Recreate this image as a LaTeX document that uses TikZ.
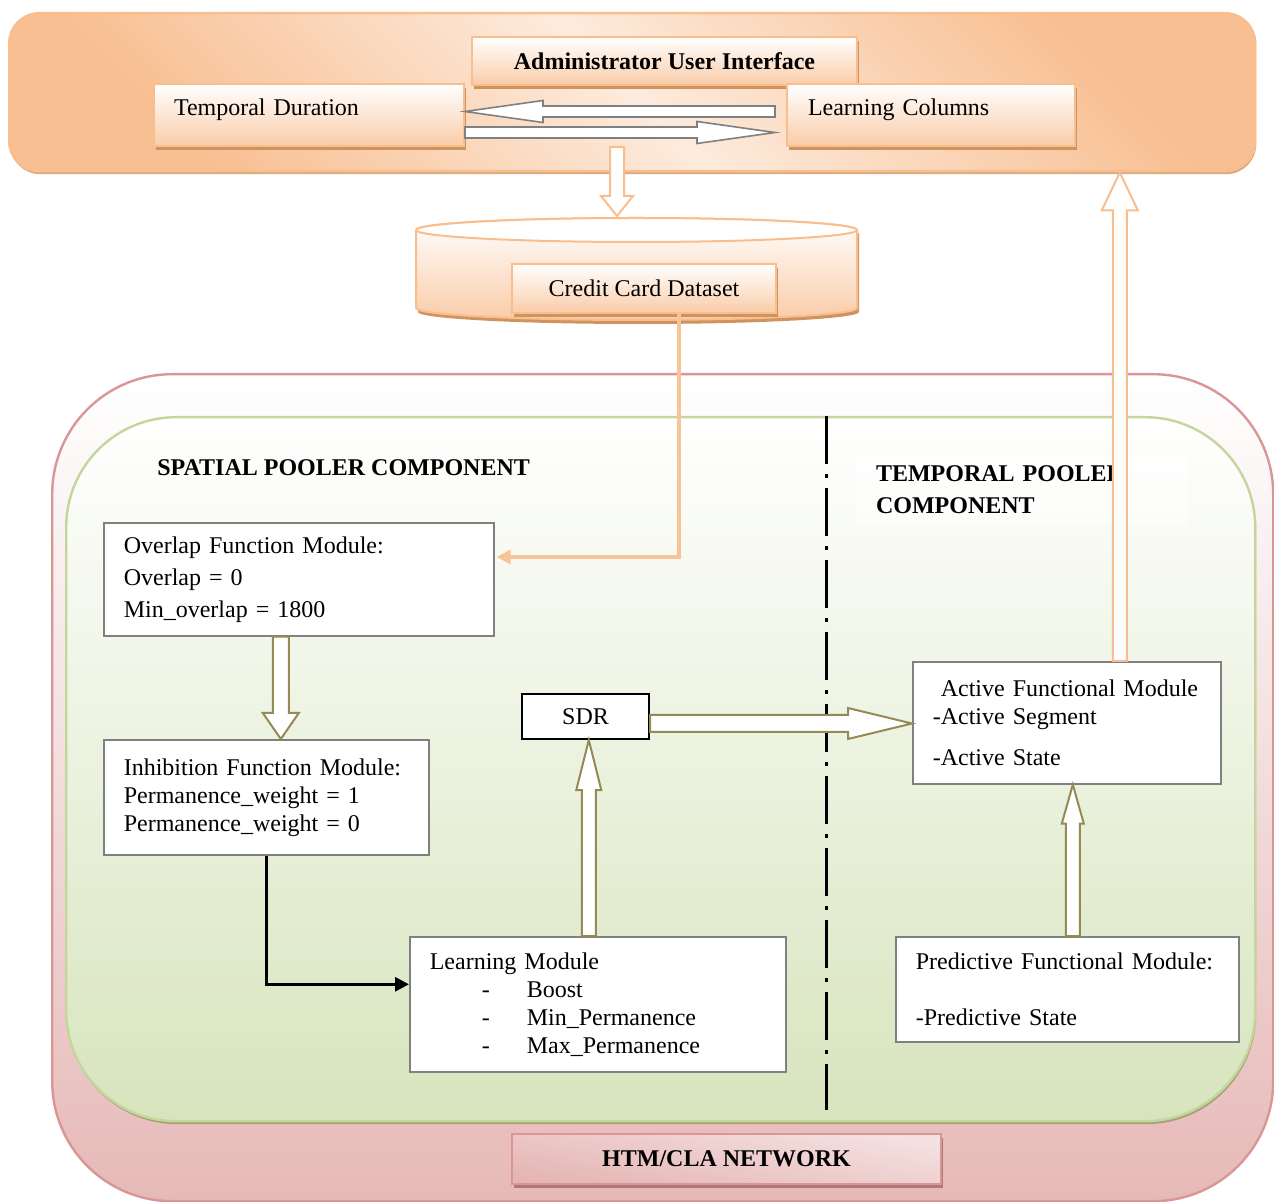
\documentclass[tikz,border=0pt]{standalone}
\usepackage{fontspec}
\setmainfont{Liberation Serif}
\usetikzlibrary{calc,shadows,positioning,arrows.meta}

\definecolor{orngB}{HTML}{F9BE8E}
\definecolor{orngD}{HTML}{F8BF92}
\definecolor{orngL}{HTML}{FDEBDD}
\definecolor{orngS}{HTML}{CF935F}
\definecolor{pinkB}{HTML}{D99694}
\definecolor{pinkF}{HTML}{E6B9B8}
\definecolor{pinkL}{HTML}{F4E2E1}
\definecolor{grnB}{HTML}{C3D69B}
\definecolor{grnF}{HTML}{D7E4BD}
\definecolor{olive}{HTML}{948A54}
\definecolor{lineO}{HTML}{F8C396}

% block arrow: style, from, to, half shaft, half head, head length
\newcommand{\blockarrow}[6]{%
  \draw[#1] let \p1=(#2), \p2=(#3), \n1={atan2(\y2-\y1,\x2-\x1)} in
    ($(\p1)+({\n1+90}:#4)$) -- ($(\p2)+({\n1+180}:#6)+({\n1+90}:#4)$)
    -- ($(\p2)+({\n1+180}:#6)+({\n1+90}:#5)$) -- (\p2)
    -- ($(\p2)+({\n1+180}:#6)+({\n1-90}:#5)$)
    -- ($(\p2)+({\n1+180}:#6)+({\n1-90}:#4)$) -- ($(\p1)+({\n1-90}:#4)$) -- cycle;}

\tikzset{
  txt/.style={font=\fontsize{12pt}{14pt}\selectfont},
  hdr/.style={font=\fontsize{12pt}{14pt}\selectfont\bfseries},
  uipanel/.style={rounded corners=15pt, draw=orngB, line width=1.2pt,
    top color=orngD, bottom color=orngD, middle color=orngL, shading angle=-45,
    drop shadow={shadow xshift=0.5pt, shadow yshift=-1.5pt, fill=orngS!80, opacity=1}},
  obox/.style={draw=orngB, line width=1pt, top color=white, bottom color=orngD!80,
    drop shadow={shadow xshift=1pt, shadow yshift=-2pt, fill=orngS, opacity=1}},
  netpanel/.style={rounded corners=60pt, draw=pinkB, line width=1.2pt,
    top color=white, bottom color=pinkF},
  grnpanel/.style={rounded corners=55pt, draw=grnB, line width=1.2pt,
    top color=white, bottom color=grnF,
    drop shadow={shadow xshift=0.5pt, shadow yshift=-1.5pt, fill=olive!80, opacity=1}},
  gbox/.style={draw=black!50, line width=0.8pt, fill=white, txt, align=left, inner xsep=10pt},
  netbox/.style={draw=pinkB, line width=1pt, top color=pinkL, bottom color=pinkF!90!pinkB,
    shading angle=-10, drop shadow={shadow xshift=1pt, shadow yshift=-2pt, fill=pinkB!80!black, opacity=1}},
  grayarr/.style={draw=black!50, fill=white, line width=0.8pt},
  olivearr/.style={draw=olive, fill=white, line width=1pt},
  orngarr/.style={draw=orngB, fill=white, line width=1pt},
  feed/.style={draw=lineO, line width=2pt, -{Triangle[length=7pt,width=7pt]}},
  link/.style={draw=black, line width=1.5pt, -{Triangle[length=7pt,width=7pt]}},
  divider/.style={draw=black, line width=1.5pt, dash pattern=on 24pt off 5pt on 2pt off 5pt}
}

\begin{document}
\begin{tikzpicture}[x=0.5pt,y=-0.5pt]
\useasboundingbox (0,0) rectangle (1274,1202);

% network and pooler panels
\node[netpanel, minimum width=610.5pt, minimum height=413.5pt, anchor=north west] (net) at (51,373) {};
\node[grnpanel, minimum width=594.5pt, minimum height=352pt, anchor=north west] (pool) at (65,416) {};
\node[netbox, hdr, minimum width=214.5pt, minimum height=25pt, anchor=north west] (htm) at (511,1133) {HTM/CLA NETWORK};

\node[hdr, anchor=west, inner sep=0pt] (sphead) at (157,468) {SPATIAL POOLER COMPONENT};
\node[hdr, fill=white, fill opacity=0.6, text opacity=1, align=left, text width=146pt, inner xsep=10pt,
  minimum height=35pt] (tphead) at (1022,490) {TEMPORAL POOLER\\[2pt] COMPONENT};

\draw[divider] (826,416) -- (826,1110); % divider

% user interface panel
\node[uipanel, minimum width=623pt, minimum height=79pt, anchor=north west] (ui) at (8,12) {};
\node[obox, hdr, minimum width=192.5pt, minimum height=24pt, anchor=north west] (admin) at (471,36) {Administrator User Interface};
\node[obox, txt, minimum width=155pt, minimum height=31pt, anchor=north west, text width=135pt, inner xsep=10pt,
  align=left, text height=8pt, text depth=7pt] (dur) at (153,83) {Temporal Duration};
\node[obox, txt, minimum width=143.5pt, minimum height=31pt, anchor=north west, text width=123pt, inner xsep=10.5pt,
  align=left, text height=8pt, text depth=7pt] (cols) at (786,83) {Learning Columns};

\coordinate (colsin) at (775,111.5);
\coordinate (colsout) at (775,132.5);
\blockarrow{grayarr}{colsin}{colsin -| dur.east}{2.75pt}{5.5pt}{39pt}
\blockarrow{grayarr}{colsout -| dur.east}{colsout}{2.75pt}{5.5pt}{39pt}

% dataset
\draw[obox] (416,230) -- (416,308) arc[start angle=180, end angle=360, x radius=110.25pt, y radius=6pt]
  -- (857,230) arc[start angle=0, end angle=180, x radius=110.25pt, y radius=6pt] -- cycle;
\draw[draw=orngB, line width=1pt, fill=white] (636.5,230) ellipse [x radius=110.25pt, y radius=6pt];
\node[obox, txt, minimum width=132pt, minimum height=24.5pt, anchor=north west] (cc) at (511,263) {Credit Card Dataset};

\coordinate (uiout) at (617,147);
\coordinate (dbtop) at (617,216);
\blockarrow{orngarr}{uiout}{dbtop}{3.5pt}{8pt}{10pt}

% spatial pooler
\node[gbox, minimum width=195pt, minimum height=56.5pt, anchor=north west, text width=175pt] (ovl) at (103,522)
  {Overlap Function Module:\\[2pt] Overlap = 0\\[2pt] Min\_overlap = 1800};
\node[gbox, minimum width=162.5pt, minimum height=57.5pt, anchor=north west, text width=142.5pt] (inh) at (103,739)
  {Inhibition Function Module:\\ Permanence\_weight = 1\\ Permanence\_weight = 0};
\node[gbox, minimum width=188pt, minimum height=67.5pt, anchor=north west, text width=168pt] (lrn) at (409,936)
  {Learning Module\\
   \hspace*{26pt}\makebox[22.5pt][l]{-}Boost\\
   \hspace*{26pt}\makebox[22.5pt][l]{-}Min\_Permanence\\
   \hspace*{26pt}\makebox[22.5pt][l]{-}Max\_Permanence};
\node[draw=black, line width=1pt, fill=white, txt, minimum width=63.5pt, minimum height=22.5pt, anchor=north west] (sdr) at (521,693) {SDR};

% temporal pooler
\node[gbox, minimum width=154pt, minimum height=61pt, anchor=north west, text width=134pt] (act) at (912,661)
  {\hspace*{4pt}Active Functional Module\\ -Active Segment\\[6.5pt] -Active State};
\node[gbox, minimum width=171.5pt, minimum height=52.5pt, anchor=north west, text width=151.5pt] (pred) at (895,936)
  {Predictive Functional Module:\\[14pt] -Predictive State};

% connectors
\draw[feed] ($(cc.south)+(35,0)$) |- ($(ovl.north east)+(2,35)$);
\draw[link] (inh.south) |- ($(lrn.west)+(0,-20)$);

\coordinate (ovlout) at ($(ovl.south)+(-18,0)$);
\blockarrow{olivearr}{ovlout}{ovlout |- inh.north}{4pt}{9pt}{13pt}
\coordinate (lrnout) at ($(lrn.north)+(-9,0)$);
\blockarrow{olivearr}{lrnout}{lrnout |- sdr.south}{3.5pt}{6.25pt}{25pt}
\coordinate (sdrout) at ($(sdr.east)+(0,7)$);
\blockarrow{olivearr}{sdrout}{sdrout -| act.west}{4.25pt}{7.75pt}{32pt}
\coordinate (predout) at ($(pred.north)+(5.5,0)$);
\blockarrow{olivearr}{predout}{predout |- act.south}{3.5pt}{5.5pt}{19.5pt}
\coordinate (actout) at ($(act.north)+(53,0)$);
\blockarrow{orngarr}{actout}{actout |- ui.south}{3.5pt}{9pt}{19pt}

\end{tikzpicture}
\end{document}
